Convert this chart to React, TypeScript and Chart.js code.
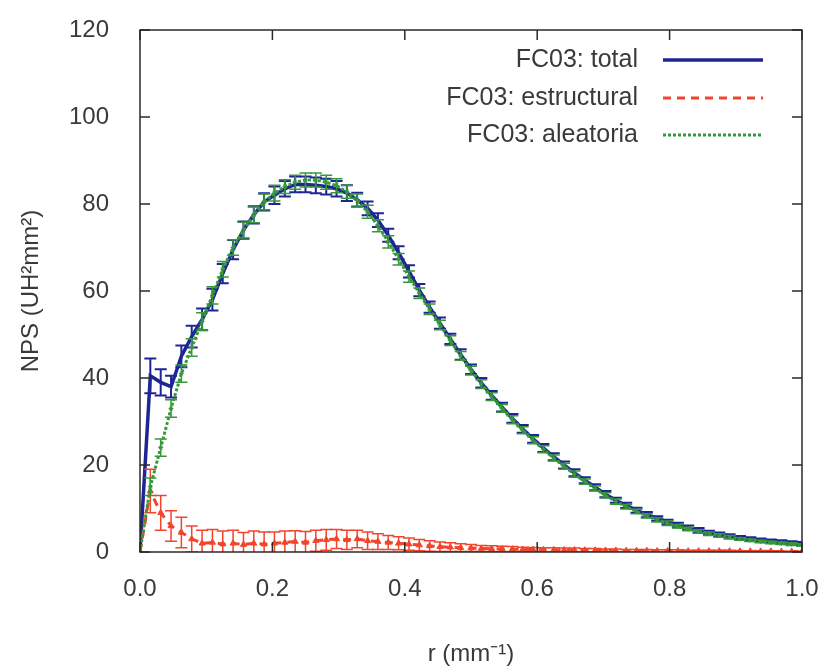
import React, { useEffect, useRef } from "react";
import { Chart, registerables } from "chart.js";

Chart.register(...registerables);

// r values (mm^-1)
const R = [
  0, 0.0156, 0.0313, 0.0469, 0.0625, 0.0781, 0.0938, 0.1094,
  0.125, 0.1406, 0.1563, 0.1719, 0.1875, 0.2031, 0.2188, 0.2344,
  0.25, 0.2656, 0.2813, 0.2969, 0.3125, 0.3281, 0.3438, 0.3594,
  0.375, 0.3906, 0.4063, 0.4219, 0.4375, 0.4531, 0.4688, 0.4844,
  0.5, 0.5156, 0.5313, 0.5469, 0.5625, 0.5781, 0.5938, 0.6094,
  0.625, 0.6406, 0.6563, 0.6719, 0.6875, 0.7031, 0.7188, 0.7344,
  0.75, 0.7656, 0.7813, 0.7969, 0.8125, 0.8281, 0.8438, 0.8594,
  0.875, 0.8906, 0.9063, 0.9219, 0.9375, 0.9531, 0.9688, 0.9844,
  1,
];

const TOTAL = [
  0, 40.5, 39, 38, 45, 49.5, 53.5, 58,
  64, 69.5, 74, 77.5, 80.5, 82, 83.5, 84.5,
  84.5, 84.3, 84, 83.5, 82.5, 81, 79, 76.3,
  72.8, 68.8, 64.5, 60.2, 56.3, 52.6, 49, 45.4,
  42, 38.9, 36, 33.3, 30.7, 28.3, 26, 23.9,
  21.9, 20, 18.2, 16.5, 14.9, 13.3, 11.9, 10.7,
  9.6, 8.6, 7.7, 6.9, 6.2, 5.6, 5.0, 4.5,
  4.1, 3.7, 3.3, 3.0, 2.7, 2.5, 2.3, 2.1,
  1.9,
];
const TOTAL_ERR = [
  0, 4, 3, 2.5, 2.5, 2.5, 2.5, 2.5,
  2.2, 2.2, 2, 2, 2, 2, 1.8, 1.8,
  1.8, 1.8, 1.8, 1.8, 1.8, 1.6, 1.6, 1.6,
  1.5, 1.5, 1.4, 1.4, 1.3, 1.3, 1.2, 1.2,
  1.1, 1.1, 1, 1, 1, 0.9, 0.9, 0.9,
  0.8, 0.8, 0.8, 0.7, 0.7, 0.7, 0.6, 0.6,
  0.6, 0.6, 0.5, 0.5, 0.5, 0.5, 0.5, 0.4,
  0.4, 0.4, 0.4, 0.4, 0.4, 0.4, 0.4, 0.4,
  0.4,
];

const ESTRUCTURAL = [
  0, 14, 9, 6, 4.5, 3, 2, 2.2,
  1.8, 2, 1.7, 2, 1.8, 2, 2.2, 2.4,
  2.2, 2.6, 2.8, 3, 2.8, 3, 2.6, 2.4,
  2.2, 2, 1.8, 1.6, 1.4, 1.2, 1.1, 1,
  0.9, 0.8, 0.75, 0.7, 0.65, 0.6, 0.55, 0.5,
  0.5, 0.45, 0.45, 0.4, 0.4, 0.35, 0.35, 0.3,
  0.3, 0.3, 0.25, 0.25, 0.25, 0.2, 0.2, 0.2,
  0.2, 0.2, 0.15, 0.15, 0.15, 0.15, 0.1, 0.1,
  0.1,
];
const ESTRUCTURAL_ERR = [
  0, 5, 4, 3.5, 3.5, 3, 3, 3,
  3, 3, 2.8, 2.8, 2.8, 2.6, 2.6, 2.5,
  2.5, 2.4, 2.4, 2.2, 2.2, 2, 2, 1.8,
  1.6, 1.5, 1.4, 1.3, 1.2, 1.1, 1, 0.9,
  0.8, 0.7, 0.7, 0.6, 0.6, 0.5, 0.5, 0.5,
  0.5, 0.45, 0.45, 0.4, 0.4, 0.35, 0.35, 0.3,
  0.3, 0.3, 0.25, 0.25, 0.25, 0.2, 0.2, 0.2,
  0.2, 0.2, 0.15, 0.15, 0.15, 0.15, 0.1, 0.1,
  0.1,
];

const ALEATORIA = [
  0, 15, 24, 33, 41, 47, 53, 59,
  65, 70, 74, 77.5, 80.5, 82.5, 84, 85,
  85.5, 85.5, 85, 84.2, 82.8, 80.8, 78.2, 75,
  71.3, 67.3, 63.3, 59.5, 55.8, 52.2, 48.6, 45.1,
  41.7, 38.6, 35.7, 33, 30.4, 28, 25.7, 23.6,
  21.6, 19.7, 17.9, 16.2, 14.6, 13.0, 11.6, 10.4,
  9.3, 8.3, 7.4, 6.6, 5.9, 5.3, 4.7, 4.2,
  3.8, 3.4, 3.0, 2.7, 2.4, 2.2, 2.0, 1.8,
  1.6,
];
const ALEATORIA_ERR = [
  0, 2, 2, 2, 2, 2, 2, 2,
  1.8, 1.8, 1.8, 1.8, 1.8, 1.8, 1.6, 1.6,
  1.6, 1.6, 1.6, 1.6, 1.5, 1.5, 1.5, 1.4,
  1.4, 1.3, 1.3, 1.2, 1.2, 1.1, 1.1, 1,
  1, 1, 0.9, 0.9, 0.9, 0.8, 0.8, 0.8,
  0.7, 0.7, 0.7, 0.6, 0.6, 0.6, 0.6, 0.5,
  0.5, 0.5, 0.5, 0.5, 0.4, 0.4, 0.4, 0.4,
  0.4, 0.4, 0.3, 0.3, 0.3, 0.3, 0.3, 0.3,
  0.3,
];

const X_TICKS = [0, 0.2, 0.4, 0.6, 0.8, 1.0];
const Y_TICKS = [0, 20, 40, 60, 80, 100, 120];
const SERIES_LABELS = ["FC03: total", "FC03: estructural", "FC03: aleatoria"];
const X_TITLE = "r (mm\u207B\u00B9)";
const Y_TITLE = "NPS (UH\u00B2mm\u00B2)";

const FONT = "'Liberation Sans', Arial, sans-serif";
const TEXT = "#3a3a3a";
const BLUE = "#1f2694";
const RED = "#f2452c";
const GREEN = "#36983a";

const toXY = (vals: number[]) => vals.map((v, i) => ({ x: R[i], y: v }));

const errorBarPlugin = {
  id: "errorBars",
  afterDatasetDraw(chart: any, args: any) {
    const ds = chart.data.datasets[args.index];
    const errs: number[] = ds.errors;
    if (!errs) return;
    const { ctx, chartArea } = chart;
    const ys = chart.scales.y;
    ctx.save();
    ctx.beginPath();
    ctx.rect(chartArea.left, chartArea.top, chartArea.right - chartArea.left, chartArea.bottom - chartArea.top);
    ctx.clip();
    ctx.strokeStyle = ds.borderColor;
    ctx.lineWidth = ds.errorWidth || 1.5;
    ctx.setLineDash([]);
    const cap = 6;
    args.meta.data.forEach((pt: any, i: number) => {
      const e = errs[i];
      if (!e) return;
      const v = ds.data[i].y;
      const y1 = ys.getPixelForValue(v + e);
      const y2 = ys.getPixelForValue(v - e);
      ctx.beginPath();
      ctx.moveTo(pt.x, y1);
      ctx.lineTo(pt.x, y2);
      ctx.moveTo(pt.x - cap, y1);
      ctx.lineTo(pt.x + cap, y1);
      ctx.moveTo(pt.x - cap, y2);
      ctx.lineTo(pt.x + cap, y2);
      ctx.stroke();
    });
    ctx.restore();
  },
};

const framePlugin = {
  id: "frame",
  afterDraw(chart: any) {
    const { ctx, chartArea } = chart;
    const { left, right, top, bottom } = chartArea;
    const xs = chart.scales.x;
    const ys = chart.scales.y;
    ctx.save();
    ctx.strokeStyle = "#2a2a2a";
    ctx.lineWidth = 1.5;
    ctx.setLineDash([]);
    ctx.strokeRect(left, top, right - left, bottom - top);
    const tl = 10;
    ctx.beginPath();
    X_TICKS.forEach((v) => {
      const px = xs.getPixelForValue(v);
      ctx.moveTo(px, bottom);
      ctx.lineTo(px, bottom - tl);
      ctx.moveTo(px, top);
      ctx.lineTo(px, top + tl);
    });
    Y_TICKS.forEach((v) => {
      const py = ys.getPixelForValue(v);
      ctx.moveTo(left, py);
      ctx.lineTo(left + tl, py);
      ctx.moveTo(right, py);
      ctx.lineTo(right - tl, py);
    });
    ctx.stroke();

    // legend
    const textRight = 638;
    const lineX1 = 663;
    const lineX2 = 763;
    const rows = [60, 98, 135];
    ctx.font = `25px ${FONT}`;
    ctx.fillStyle = TEXT;
    ctx.textAlign = "right";
    ctx.textBaseline = "middle";
    chart.data.datasets.forEach((ds: any, i: number) => {
      const y = rows[i];
      ctx.fillText(ds.label, textRight, y);
      ctx.save();
      ctx.strokeStyle = ds.borderColor;
      ctx.lineWidth = ds.borderWidth;
      ctx.setLineDash(ds.borderDash || []);
      ctx.beginPath();
      ctx.moveTo(lineX1, y);
      ctx.lineTo(lineX2, y);
      ctx.stroke();
      ctx.restore();
    });
    ctx.restore();
  },
};

export default function App() {
  const ref = useRef<HTMLCanvasElement | null>(null);
  useEffect(() => {
    if (!ref.current) return;
    const chart = new Chart(ref.current, {
      type: "line",
      data: {
        datasets: [
          {
            label: SERIES_LABELS[0],
            data: toXY(TOTAL),
            errors: TOTAL_ERR,
            errorWidth: 2,
            borderColor: BLUE,
            backgroundColor: BLUE,
            borderWidth: 3.5,
            pointRadius: 0,
            tension: 0,
            order: 3,
          } as any,
          {
            label: SERIES_LABELS[1],
            data: toXY(ESTRUCTURAL),
            errors: ESTRUCTURAL_ERR,
            errorWidth: 1.5,
            borderColor: RED,
            backgroundColor: RED,
            borderWidth: 3,
            borderDash: [8, 6],
            pointStyle: "triangle",
            pointRadius: 3.5,
            pointBorderWidth: 1,
            tension: 0,
            order: 2,
          } as any,
          {
            label: SERIES_LABELS[2],
            data: toXY(ALEATORIA),
            errors: ALEATORIA_ERR,
            errorWidth: 1.5,
            borderColor: GREEN,
            backgroundColor: GREEN,
            borderWidth: 3,
            borderDash: [3, 2],
            pointStyle: "star",
            pointRadius: 2.5,
            pointBorderWidth: 1,
            tension: 0,
            order: 1,
          } as any,
        ],
      },
      options: {
        animation: false,
        responsive: false,
        maintainAspectRatio: false,
        layout: { padding: { left: 0, right: 22, top: 30, bottom: 0 } },
        plugins: {
          legend: { display: false },
          tooltip: { enabled: false },
        },
        scales: {
          x: {
            type: "linear",
            min: 0,
            max: 1,
            afterBuildTicks: (s: any) => {
              s.ticks = X_TICKS.map((v) => ({ value: v }));
            },
            afterFit: (s: any) => {
              s.height = 114;
            },
            grid: {
              display: true,
              drawOnChartArea: false,
              drawTicks: true,
              tickLength: 23,
              color: "rgba(0,0,0,0)",
            },
            border: { display: false },
            ticks: {
              autoSkip: false,
              maxRotation: 0,
              padding: 0,
              color: TEXT,
              font: { family: FONT, size: 24 },
              callback: (v: any) => Number(v).toFixed(1),
            },
            title: {
              display: true,
              text: X_TITLE,
              color: TEXT,
              font: { family: FONT, size: 24, lineHeight: 1 },
              padding: { top: 0, bottom: 0 },
            },
          },
          y: {
            type: "linear",
            min: 0,
            max: 120,
            afterBuildTicks: (s: any) => {
              s.ticks = Y_TICKS.map((v) => ({ value: v }));
            },
            afterFit: (s: any) => {
              s.width = 140;
            },
            grid: {
              display: true,
              drawOnChartArea: false,
              drawTicks: true,
              tickLength: 31,
              color: "rgba(0,0,0,0)",
            },
            border: { display: false },
            ticks: {
              autoSkip: false,
              padding: 0,
              color: TEXT,
              font: { family: FONT, size: 24 },
              callback: (v: any) => String(v),
            },
            title: {
              display: true,
              text: Y_TITLE,
              color: TEXT,
              font: { family: FONT, size: 24, lineHeight: 1.2 },
              padding: { top: 17, bottom: 0 },
            },
          },
        },
      },
      plugins: [errorBarPlugin, framePlugin],
    } as any);
    return () => chart.destroy();
  }, []);

  return (
    <div style={{ position: "absolute", left: 0, top: 0, width: 824, height: 666, background: "#fff" }}>
      <canvas ref={ref} width={824} height={666} style={{ display: "block", width: 824, height: 666 }} />
    </div>
  );
}
